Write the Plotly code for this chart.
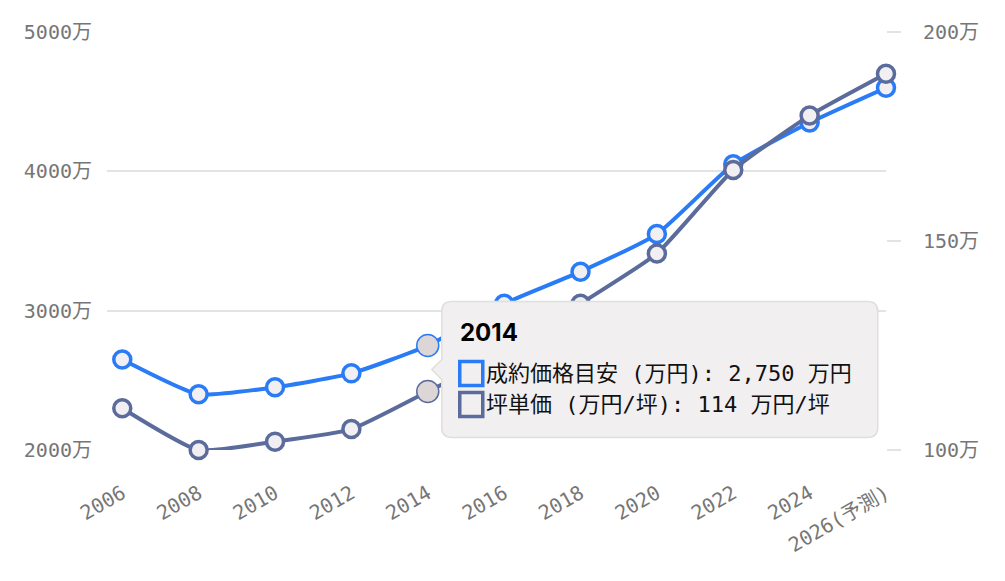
import plotly.graph_objects as go

# data
years = [2006, 2008, 2010, 2012, 2014, 2016, 2018, 2020, 2022, 2024, 2026]
x_labels = ["2006", "2008", "2010", "2012", "2014", "2016", "2018", "2020", "2022", "2024", "2026(予測)"]
price = [2650, 2400, 2450, 2550, 2750, 3050, 3280, 3550, 4050, 4350, 4600]
tsubo = [110, 100, 102, 105, 114, 123, 135, 147, 167, 180, 190]
price_ticks = [2000, 3000, 4000, 5000]
tsubo_ticks = [100, 150, 200]

price_name = "成約価格目安 (万円)"
tsubo_name = "坪単価 (万円/坪)"
hover_year = 2014

BLUE = "#2a7bf6"
SLATE = "#5b6b9c"
TICK_FONT = dict(family="DejaVu Sans Mono, Noto Sans CJK JP", size=20, color="#767676")
TIP_FONT = dict(family="DejaVu Sans Mono, Noto Sans CJK JP", size=22, color="#111111")


# hovered point gets a bigger, grey-filled marker like the emphasis state
def marker_style(color):
    sizes = [22 if y == hover_year else 17 for y in years]
    fills = ["#dcd6d6" if y == hover_year else "#f1eff1" for y in years]
    widths = [1.5 if y == hover_year else 3.5 for y in years]
    return dict(size=sizes, color=fills, opacity=1, line=dict(color=color, width=widths))


fig = go.Figure()
fig.add_trace(go.Scatter(
    x=years, y=tsubo, name=tsubo_name, yaxis="y2", mode="lines+markers",
    line=dict(color=SLATE, width=4, shape="spline", smoothing=0.5),
    marker=marker_style(SLATE), cliponaxis=False,
))
fig.add_trace(go.Scatter(
    x=years, y=price, name=price_name, mode="lines+markers",
    line=dict(color=BLUE, width=4, shape="spline", smoothing=0.5),
    marker=marker_style(BLUE), cliponaxis=False,
))

# tooltip box, drawn in pixels around the hovered point
i = years.index(hover_year)
box = ("M 24,44 L 440,44 Q 450,44 450,34 L 450,-82 Q 450,-92 440,-92 "
       "L 24,-92 Q 14,-92 14,-82 L 14,-34 L 4,-24 L 14,-14 L 14,34 Q 14,44 24,44 Z")
shape_anchor = dict(xref="x", yref="y", xsizemode="pixel", ysizemode="pixel",
                    xanchor=hover_year, yanchor=price[i], layer="above")
fig.add_shape(type="path", path=box, fillcolor="#f1eff0",
              line=dict(color="#e0dede", width=1.5), **shape_anchor)
fig.add_shape(type="rect", x0=32, x1=55, y0=-16, y1=-40, fillcolor="#f1eff0",
              line=dict(color=BLUE, width=3.5), **shape_anchor)
fig.add_shape(type="rect", x0=32, x1=55, y0=-47, y1=-71, fillcolor="#f1eff0",
              line=dict(color=SLATE, width=3.5), **shape_anchor)

tip = dict(x=hover_year, y=price[i], xref="x", yref="y", showarrow=False,
           xanchor="left", yanchor="middle")
fig.add_annotation(text="<b>%d</b>" % hover_year, xshift=30, yshift=13,
                   font=dict(family="Inter, Noto Sans", size=24, color="#000000"), **tip)
fig.add_annotation(text="%s: %s 万円" % (price_name, format(price[i], ",")),
                   xshift=56, yshift=-28, font=TIP_FONT, **tip)
fig.add_annotation(text="%s: %d 万円/坪" % (tsubo_name, tsubo[i]),
                   xshift=56, yshift=-59, font=TIP_FONT, **tip)

# the page body adds 8px, so margins are shifted by that much
fig.update_layout(
    width=1005, height=581,
    margin=dict(l=99, r=127, t=19, b=139),
    paper_bgcolor="white", plot_bgcolor="white",
    showlegend=False,
    xaxis=dict(
        range=[2005.6, 2026], tickvals=years, ticktext=x_labels, tickangle=-30,
        showgrid=False, zeroline=False, showline=False, tickfont=TICK_FONT,
        ticklabelstandoff=27,
    ),
    yaxis=dict(
        range=[2000, 5000], tickvals=price_ticks,
        ticktext=["%d万" % v for v in price_ticks],
        showgrid=True, gridcolor="#e3e3e3", gridwidth=1.5, zeroline=False,
        showline=False, tickfont=TICK_FONT, ticklabelstandoff=14,
    ),
    yaxis2=dict(
        range=[100, 200], tickvals=tsubo_ticks,
        ticktext=["%d万" % v for v in tsubo_ticks],
        overlaying="y", side="right", showgrid=False, zeroline=False,
        showline=False, ticks="outside", ticklen=14, tickwidth=1.5,
        tickcolor="#e3e3e3", tickfont=TICK_FONT, ticklabelstandoff=18,
    ),
)

fig.write_html("out.html", config={"displayModeBar": False})
